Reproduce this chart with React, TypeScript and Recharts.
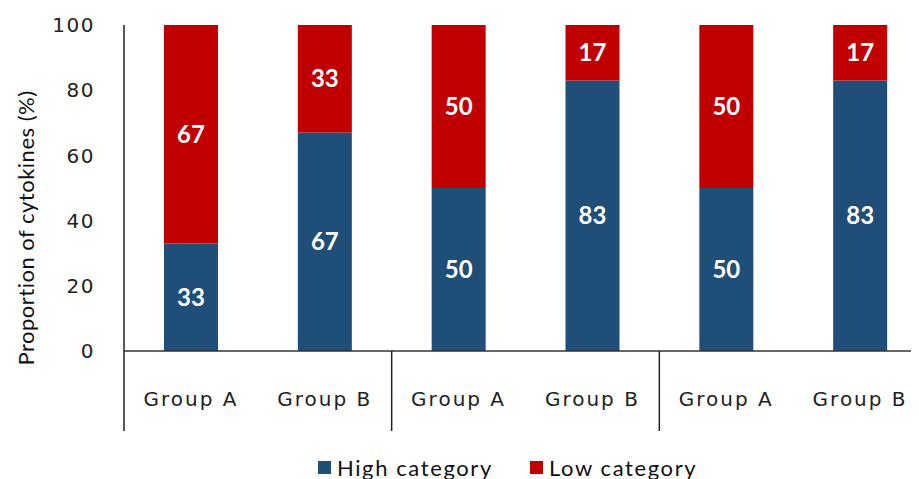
import { BarChart, Bar, XAxis, YAxis, Legend, LabelList, Label } from 'recharts'

const categories = ['Group A', 'Group B', 'Group A', 'Group B', 'Group A', 'Group B']
const highValues = [33, 67, 50, 83, 50, 83]
const lowValues = [67, 33, 50, 17, 50, 17]
const yTicks = [0, 20, 40, 60, 80, 100]

const BLUE = '#1F4E79'
const RED = '#C00000'

const data = categories.map((name, i) => ({
  key: `${name}-${i}`,
  name,
  high: highValues[i],
  low: lowValues[i],
}))

const CHART_W = 930
const CHART_H = 471
const MARGIN = { top: 17, right: 11, bottom: 0, left: 0 }
const Y_AXIS_W = 116
const SLOT = (CHART_W - MARGIN.left - MARGIN.right - Y_AXIS_W) / categories.length

// x tick: group label + separator line every two categories
function GroupTick(props: any) {
  const { x, y, index } = props
  return (
    <g>
      <text
        x={x}
        y={y + 48}
        textAnchor="middle"
        dominantBaseline="central"
        fontFamily="DejaVu Sans"
        fontSize={20}
        letterSpacing={2}
        fill="#222"
      >
        {categories[index]}
      </text>
      {index % 2 === 0 && (
        <line x1={x - SLOT / 2} x2={x - SLOT / 2} y1={y} y2={y + 80} stroke="#222" strokeWidth={1.5} />
      )}
    </g>
  )
}

// axis title, centred on plot + label band like the original
function YTitle() {
  const cx = 17
  const cy = 220
  return (
    <text
      x={cx}
      y={cy}
      transform={`rotate(-90 ${cx} ${cy})`}
      textAnchor="middle"
      dominantBaseline="central"
      fontFamily="Lato"
      fontSize={22}
      letterSpacing={0.5}
      fill="#111"
    >
      Proportion of cytokines (%)
    </text>
  )
}

function LegendContent() {
  const item = (color: string, label: string, gap: number) => (
    <div style={{ display: 'flex', alignItems: 'center', marginRight: gap }}>
      <span style={{ width: 13, height: 13, background: color, marginRight: 6, display: 'inline-block' }} />
      <span>{label}</span>
    </div>
  )
  return (
    <div
      style={{
        display: 'flex',
        alignItems: 'center',
        boxSizing: 'border-box',
        height: 28,
        paddingLeft: 310,
        paddingTop: 4,
        fontFamily: 'Lato',
        fontSize: 22,
        letterSpacing: 1.6,
        color: '#111',
      }}
    >
      {item(BLUE, 'High category', 37)}
      {item(RED, 'Low category', 0)}
    </div>
  )
}

const labelStyle = { fill: '#fff', fontFamily: 'Lato', fontWeight: 700, fontSize: 24 }

export default function App() {
  return (
    <div style={{ width: 911, height: CHART_H, overflow: 'hidden' }}>
      <BarChart width={CHART_W} height={CHART_H} data={data} margin={MARGIN} barSize={54}>
        <XAxis
          dataKey="key"
          height={100}
          tick={<GroupTick />}
          tickLine={false}
          tickSize={0}
          tickMargin={0}
          interval={0}
          axisLine={{ stroke: '#333', strokeWidth: 1.5 }}
        />
        <YAxis
          width={Y_AXIS_W}
          domain={[0, 100]}
          ticks={yTicks}
          tickLine={false}
          tickSize={6}
          tickMargin={23}
          axisLine={{ stroke: '#222', strokeWidth: 1.5 }}
          tick={{ fontFamily: 'DejaVu Sans', fontSize: 20, letterSpacing: 1.5, fill: '#222' }}
        >
          <Label content={<YTitle />} />
        </YAxis>
        <Legend verticalAlign="bottom" content={<LegendContent />} wrapperStyle={{ left: 0, bottom: 0, width: CHART_W }} />
        <Bar dataKey="high" stackId="a" fill={BLUE} name="High category" isAnimationActive={false}>
          <LabelList dataKey="high" position="center" style={labelStyle} />
        </Bar>
        <Bar dataKey="low" stackId="a" fill={RED} name="Low category" isAnimationActive={false}>
          <LabelList dataKey="low" position="center" style={labelStyle} />
        </Bar>
      </BarChart>
    </div>
  )
}
